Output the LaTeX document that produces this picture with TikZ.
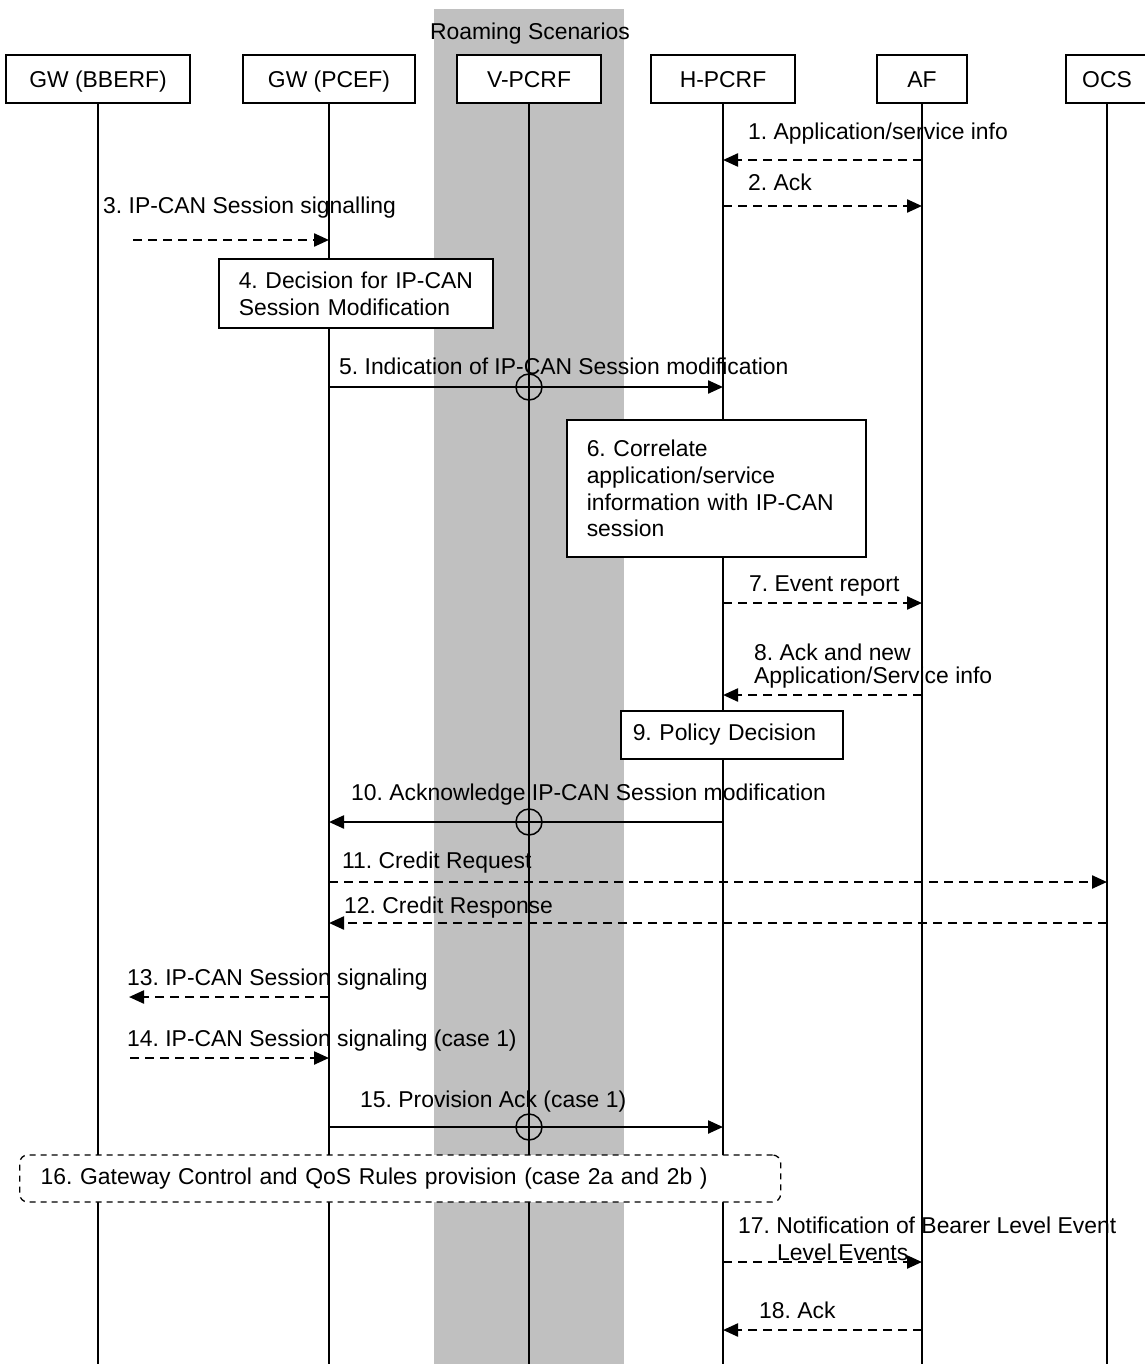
\documentclass[tikz,border=0pt]{standalone}
\usepackage{fontspec}
\setmainfont{Liberation Sans}
\usepackage{xcolor}
\usetikzlibrary{arrows.meta}
\frenchspacing

\definecolor{roamgray}{RGB}{192,192,192}

\tikzset{
  entity/.style={draw, fill=white, line width=1.5pt, minimum height=48pt, inner sep=0pt,
    text height=16.4pt, text depth=0pt},
  lifeline/.style={line width=1.5pt},
  msg/.style={line width=2.3pt, -{Triangle[length=15pt,width=13pt]}},
  async/.style={msg, dash pattern=on 9pt off 6pt},
  lbl/.style={anchor=base west, inner sep=0pt},
  procbox/.style={draw, fill=white, line width=1.5pt, align=left, inner ysep=0pt, anchor=west},
  hop/.style={draw, circle, line width=1.5pt, minimum size=26pt, inner sep=0pt}
}

\begin{document}
\begin{tikzpicture}[x=1pt, y=-1pt, font=\fontsize{22.9}{26.7}\selectfont]
\useasboundingbox (0,0) rectangle (1144,1364);
\coordinate (bottom) at (0,1364);

% roaming band
\fill[roamgray] (434,9) rectangle (624,1364);
\node[anchor=base, inner sep=0pt] (roam) at (530,40) {Roaming Scenarios};

% entities
\node[entity, minimum width=184pt] (bberf) at (98,79) {GW (BBERF)};
\node[entity, minimum width=172pt] (pcef) at (329,79) {GW (PCEF)};
\node[entity, minimum width=144pt] (vpcrf) at (529,79) {V-PCRF};
\node[entity, minimum width=144pt] (hpcrf) at (723,79) {H-PCRF};
\node[entity, minimum width=90pt] (af) at (922,79) {AF};
\node[entity, minimum width=82pt] (ocs) at (1107,79) {OCS};

\foreach \n in {bberf,pcef,vpcrf,hpcrf,af,ocs}
  \draw[lifeline] (\n.south) -- (\n |- bottom);

% 1-3
\draw[async] (af |- 0,160) -- (hpcrf |- 0,160);
\node[lbl] (m1) at (748,140) {1. Application/service info};
\draw[async] (hpcrf |- 0,206) -- (af |- 0,206);
\node[lbl] (m2) at (748,191) {2. Ack};
\coordinate (s3) at (133,240);
\draw[async] (s3) -- (pcef |- s3);
\node[lbl] (m3) at (103,214) {3. IP-CAN Session signalling};

% 4
\node[procbox, text width=240pt, inner xsep=17pt, minimum height=69pt] (decide) at (218,293.5)
  {\hspace*{3pt}4. Decision for IP-CAN\\\hspace*{3pt}Session Modification};

% 5
\draw[msg] (pcef |- 0,387) -- (hpcrf |- 0,387);
\node[hop] (c5) at (vpcrf |- 0,387) {};
\node[lbl] (m5) at (339,374) {5. Indication of IP-CAN Session modification};

% 6
\node[procbox, text width=259pt, inner xsep=20pt, minimum height=137pt] (correlate) at (566,488.5)
  {6. Correlate\\application/service\\information with IP-CAN\\session};

% 7-8
\draw[async] (hpcrf |- 0,603) -- (af |- 0,603);
\node[lbl] (m7) at (749,591) {7. Event report};
\draw[async] (af |- 0,695) -- (hpcrf |- 0,695);
\node[lbl] (m8a) at (754,660) {8. Ack and new};
\node[lbl] (m8b) at (754,683) {Application/Service info};

% 9
\node[procbox, text width=198pt, inner xsep=12pt, minimum height=48pt] (policy) at (620,735)
  {9. Policy Decision};

% 10-12
\draw[msg] (hpcrf |- 0,822) -- (pcef |- 0,822);
\node[hop] (c10) at (vpcrf |- 0,822) {};
\node[lbl] (m10) at (351,800) {10. Acknowledge IP-CAN Session modification};
\draw[async] (pcef |- 0,882) -- (ocs |- 0,882);
\node[lbl] (m11) at (342,868) {11. Credit Request};
\draw[async] (ocs |- 0,923) -- (pcef |- 0,923);
\node[lbl] (m12) at (344,913) {12. Credit Response};

% 13-15
\coordinate (e13) at (129,997);
\draw[async] (pcef |- e13) -- (e13);
\node[lbl] (m13) at (127,985) {13. IP-CAN Session signaling};
\coordinate (s14) at (130,1058);
\draw[async] (s14) -- (pcef |- s14);
\node[lbl] (m14) at (127,1046) {14. IP-CAN Session signaling (case 1)};
\draw[msg] (pcef |- 0,1127) -- (hpcrf |- 0,1127);
\node[hop] (c15) at (vpcrf |- 0,1127) {};
\node[lbl] (m15) at (360,1107) {15. Provision Ack (case 1)};

% 16
\node[procbox, rounded corners=8pt, line width=1.3pt, dash pattern=on 6pt off 5pt,
  text width=719pt, inner xsep=21pt, minimum height=47pt] (gwctl) at (19,1178.5)
  {16. Gateway Control and QoS Rules provision (case 2a and 2b )};

% 17-18
\draw[async] (hpcrf |- 0,1262) -- (af |- 0,1262);
\node[lbl] (m17a) at (738,1233) {17. Notification of Bearer Level Event};
\node[lbl] (m17b) at (777,1260) {Level Events};
\draw[async] (af |- 0,1330) -- (hpcrf |- 0,1330);
\node[lbl] (m18) at (759,1318) {18. Ack};
\end{tikzpicture}
\end{document}
